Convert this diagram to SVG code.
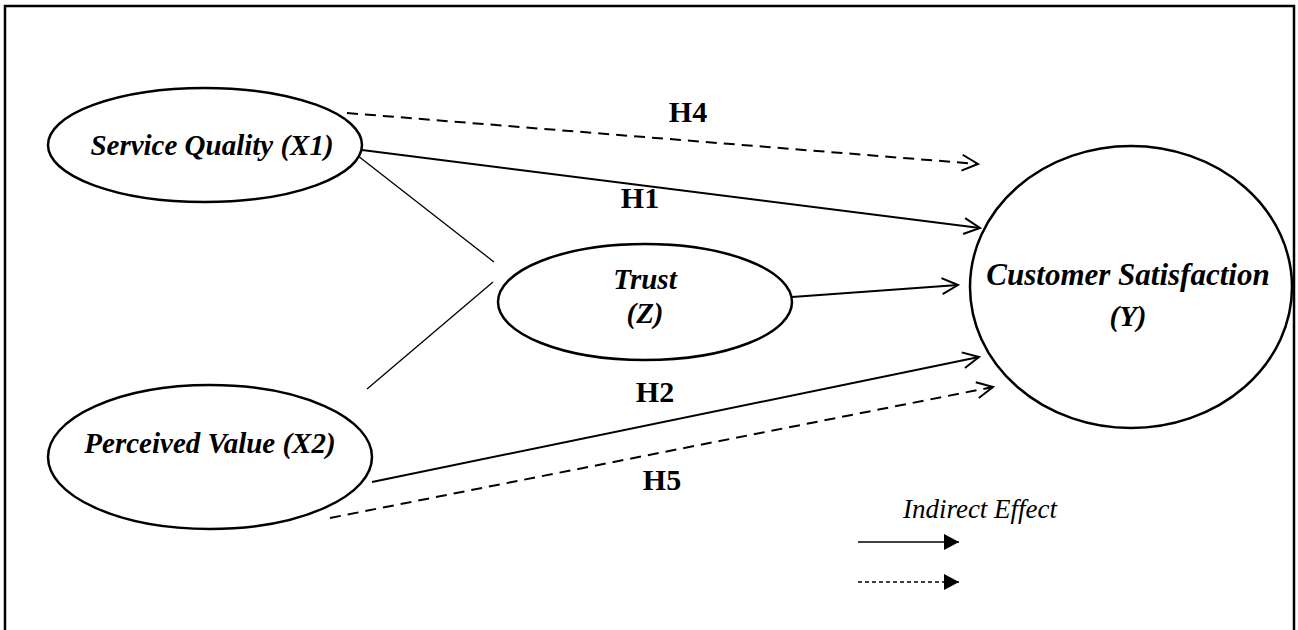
<svg xmlns="http://www.w3.org/2000/svg" width="1298" height="630" viewBox="0 0 1298 630">
<style>
.node{fill:#fff;stroke:#000;stroke-width:2.5}
.lbl{font-family:"Liberation Serif",serif;font-weight:bold;font-style:italic;font-size:29px;fill:#000;text-anchor:middle}
.h{font-family:"Liberation Serif",serif;font-weight:bold;font-size:30px;fill:#000;text-anchor:middle}
.arr{fill:none;stroke:#000;stroke-width:2}
.dash{stroke-dasharray:11 7}
.thin{fill:none;stroke:#000;stroke-width:1.3}
</style>
<defs>
<marker id="open" viewBox="0 0 20 20" refX="18" refY="10" markerWidth="20" markerHeight="20" markerUnits="userSpaceOnUse" orient="auto">
<path d="M2,2 L18,10 L2,18" fill="none" stroke="#000" stroke-width="2"/>
</marker>
<marker id="tri" viewBox="0 0 16 16" refX="15" refY="8" markerWidth="16" markerHeight="16" markerUnits="userSpaceOnUse" orient="auto">
<path d="M0,0 L15,8 L0,16 Z" fill="#000"/>
</marker>
</defs>
<rect width="1298" height="630" fill="#fff"/>
<path d="M5,630 L5,6 L1294,6 L1294,630" fill="none" stroke="#000" stroke-width="2.5"/>
<g id="connectors">
<line class="arr dash" x1="347" y1="113" x2="978" y2="164" marker-end="url(#open)"/>
<line class="arr" x1="362" y1="150" x2="980" y2="228" marker-end="url(#open)"/>
<line class="arr" x1="792" y1="297" x2="958" y2="285" marker-end="url(#open)"/>
<line class="arr" x1="372" y1="482" x2="979" y2="357" marker-end="url(#open)"/>
<line class="arr dash" x1="330" y1="518" x2="993" y2="387" marker-end="url(#open)"/>
<line class="thin" x1="353" y1="152" x2="494" y2="262"/>
<line class="thin" x1="367" y1="389" x2="493" y2="282"/>
<text class="h" x="688" y="122">H4</text>
<text class="h" x="640" y="208">H1</text>
<text class="h" x="655" y="402">H2</text>
<text class="h" x="662" y="490">H5</text>
</g>
<g id="sq">
<ellipse class="node" cx="205" cy="145" rx="157" ry="57"/>
<text class="lbl" x="212" y="155">Service Quality (X1)</text>
</g>
<g id="pv">
<ellipse class="node" cx="210" cy="457" rx="162" ry="72"/>
<text class="lbl" x="210" y="453">Perceived Value (X2)</text>
</g>
<g id="trust">
<ellipse class="node" cx="645" cy="302" rx="147" ry="58"/>
<text class="lbl" x="645" y="289">Trust</text>
<text class="lbl" x="645" y="323">(Z)</text>
</g>
<g id="cs">
<ellipse class="node" cx="1131" cy="287" rx="161" ry="141"/>
<text class="lbl" x="1128" y="285" style="font-size:31px">Customer Satisfaction</text>
<text class="lbl" x="1128" y="326">(Y)</text>
</g>
<g id="legend">
<text x="980" y="518" font-family="Liberation Serif,serif" font-style="italic" font-size="27" text-anchor="middle">Indirect Effect</text>
<line x1="858" y1="542" x2="959" y2="542" stroke="#000" stroke-width="1.5" marker-end="url(#tri)"/>
<line x1="858" y1="582" x2="959" y2="582" stroke="#000" stroke-width="1.5" stroke-dasharray="4 3" marker-end="url(#tri)"/>
</g>
</svg>
